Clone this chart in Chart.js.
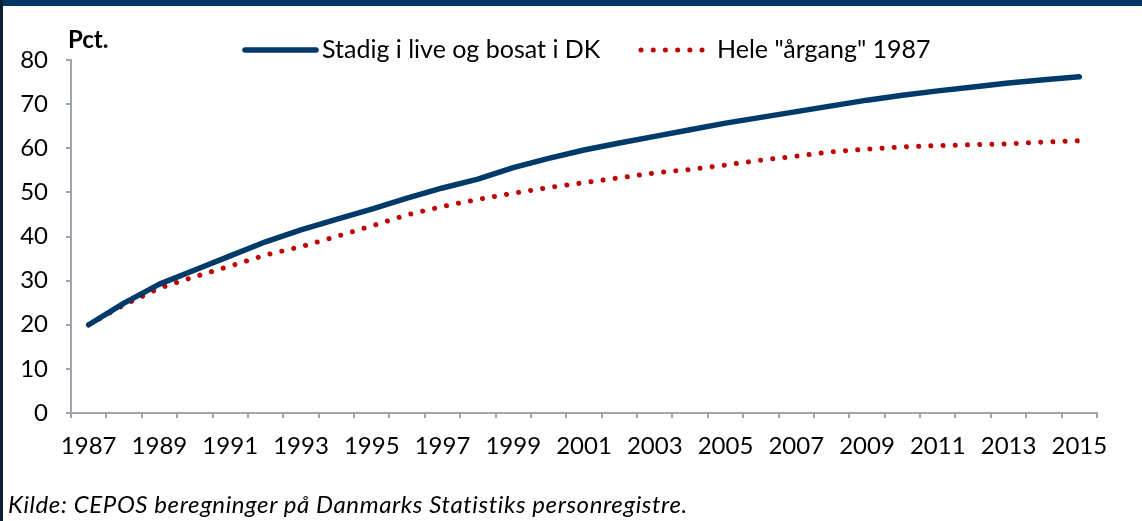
<!DOCTYPE html>
<html>
<head>
<meta charset="utf-8">
<script src="https://cdn.jsdelivr.net/npm/chart.js@4.4.1/dist/chart.umd.min.js"></script>
<style>
    html, body { margin: 0; padding: 0; background: #ffffff; }
    #wrap { position: relative; width: 1142px; height: 521px; overflow: hidden; }
    #topbar { position: absolute; left: 0; top: 0; width: 1142px; height: 6px; background: #003764; }
    #leftbar { position: absolute; left: 0; top: 0; width: 3px; height: 521px; background: #0f1e30; }
    #chartbox { position: absolute; left: 0; top: 0; width: 1142px; height: 521px; }
    #kilde { position: absolute; left: 8px; top: 492px; font: italic 24px Lato; line-height: 24px;
             letter-spacing: 0.6px; color: #000; white-space: nowrap; }
</style>
</head>
<body>
<div id="wrap">
    <div id="chartbox"><canvas id="popChart"></canvas></div>
    <div id="topbar"></div>
    <div id="leftbar"></div>
    <div id="kilde">Kilde: CEPOS beregninger på Danmarks Statistiks personregistre.</div>
</div>

<script>
/* ================= DATA ================= */

const years = ["1987", "1988", "1989", "1990", "1991", "1992", "1993", "1994", "1995", "1996",
    "1997", "1998", "1999", "2000", "2001", "2002", "2003", "2004", "2005", "2006",
    "2007", "2008", "2009", "2010", "2011", "2012", "2013", "2014", "2015"];

const stadigIDk = [20.0, 24.9, 29.2, 32.4, 35.6, 38.8, 41.5, 43.9, 46.2, 48.7,
    51.0, 53.0, 55.6, 57.7, 59.6, 61.2, 62.7, 64.2, 65.7, 67.0,
    68.3, 69.6, 70.9, 72.0, 73.0, 73.9, 74.8, 75.5, 76.2];

const heleAargang = [20.0, 24.5, 28.3, 30.9, 33.3, 35.8, 37.7, 40.0, 42.4, 44.9,
    46.8, 48.4, 49.8, 51.1, 52.2, 53.3, 54.4, 55.2, 56.2, 57.3,
    58.2, 59.2, 59.8, 60.3, 60.6, 60.8, 61.0, 61.4, 61.7];

const seriesLabels = ["Stadig i live og bosat i DK", "Hele \"årgang\" 1987"];
const yTicks = [0, 10, 20, 30, 40, 50, 60, 70, 80];

/* ================= LEGEND + UNIT ================= */

const legendPlugin = {
    id: "topLegend",
    afterDraw(chart) {
        const ctx = chart.ctx;
        const ds = chart.data.datasets;
        const items = [
            { x: 245, len: 71, text: 322 },
            { x: 641, len: 62, text: 717 }
        ];
        ctx.save();
        items.forEach((it, i) => {
            const d = ds[i];
            ctx.strokeStyle = d.borderColor;
            ctx.lineWidth = d.borderWidth;
            ctx.lineCap = "round";
            ctx.setLineDash(d.borderDash || []);
            ctx.beginPath();
            ctx.moveTo(it.x, 50);
            ctx.lineTo(it.x + it.len, 50);
            ctx.stroke();
            ctx.setLineDash([]);
            ctx.fillStyle = "#000000";
            ctx.font = "25px Lato";
            ctx.textBaseline = "middle";
            ctx.textAlign = "left";
            ctx.fillText(d.label, it.text, 50);
        });
        ctx.font = "bold 24px Lato";
        ctx.fillText("Pct.", 68, 40);
        ctx.restore();
    }
};

/* ================= CHART ================= */

new Chart(document.getElementById("popChart"), {

    type: "line",

    data: {
        labels: years,
        datasets: [
            {
                label: seriesLabels[0],
                data: stadigIDk,
                borderColor: "#003a6b",
                borderWidth: 5.5,
                borderCapStyle: "round",
                borderJoinStyle: "round",
                pointRadius: 0,
                tension: 0
            },
            {
                label: seriesLabels[1],
                data: heleAargang,
                borderColor: "#c00000",
                borderWidth: 5,
                borderDash: [0.01, 12.2],
                borderCapStyle: "round",
                pointRadius: 0,
                tension: 0
            }
        ]
    },

    plugins: [legendPlugin],

    options: {
        responsive: true,
        maintainAspectRatio: false,
        animation: false,

        layout: {
            padding: { top: 60, right: 45, bottom: 58, left: 0 }
        },

        plugins: {
            legend: { display: false },
            tooltip: { enabled: false }
        },

        scales: {
            x: {
                offset: true,
                grid: {
                    offset: true,
                    drawOnChartArea: false,
                    drawTicks: true,
                    tickLength: 5,
                    color: "#a0a5ad",
                    lineWidth: 2
                },
                border: { display: true, color: "#a0a5ad", width: 2 },
                ticks: {
                    autoSkip: false,
                    maxRotation: 0,
                    padding: 14,
                    color: "#000000",
                    font: { family: "Lato", size: 24 },
                    callback: function (value, index) {
                        return index % 2 === 0 ? years[index] : "";
                    }
                },
                afterFit: (s) => { s.height = 50; }
            },
            y: {
                min: 0,
                max: 80,
                afterBuildTicks: (s) => { s.ticks = yTicks.map(v => ({ value: v })); },
                grid: {
                    drawOnChartArea: false,
                    drawTicks: true,
                    tickLength: 5,
                    color: "#a0a5ad",
                    lineWidth: 2
                },
                border: { display: true, color: "#a0a5ad", width: 2 },
                ticks: {
                    padding: 18,
                    color: "#000000",
                    font: { family: "Lato", size: 24 }
                },
                afterFit: (s) => { s.width = 71; }
            }
        }
    }

});
</script>
</body>
</html>
